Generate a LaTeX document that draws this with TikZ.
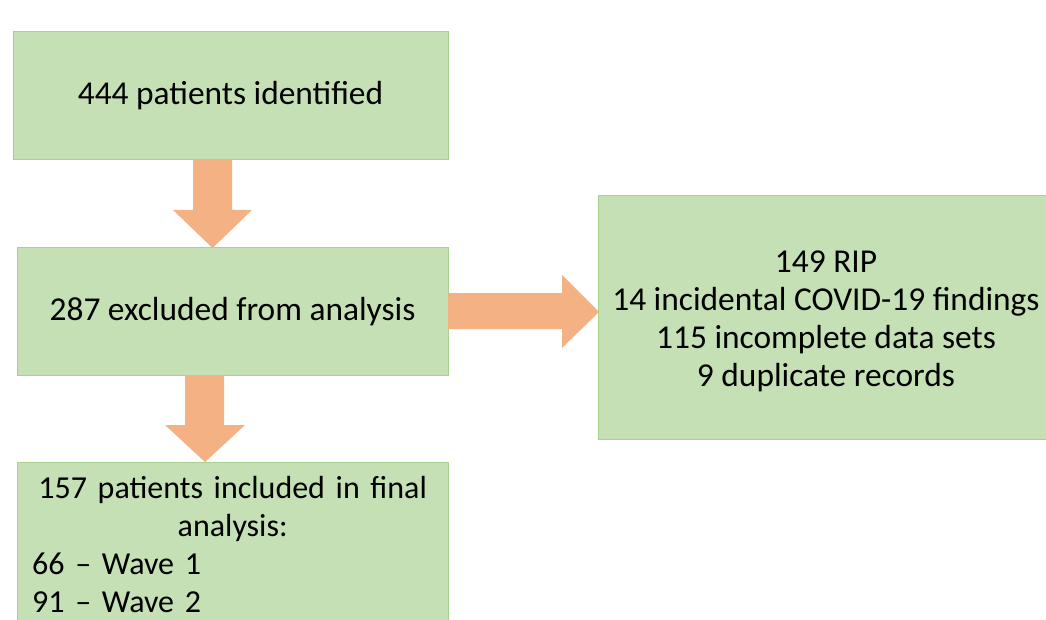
\documentclass[tikz,border=0pt]{standalone}
\usepackage{fontspec}
\setmainfont{Carlito}
\usetikzlibrary{calc}
\definecolor{boxgreen}{HTML}{C5E0B4}
\definecolor{boxline}{HTML}{A9D18E}
\definecolor{flowarrow}{HTML}{F4B183}
\tikzset{box/.style={draw=boxline, line width=1pt, fill=boxgreen, inner sep=0pt, outer sep=0pt},
  flow/.style={fill=flowarrow}}
\begin{document}
\begin{tikzpicture}[x=1pt, y=-1pt, font=\fontsize{33.4}{38}\selectfont]
\useasboundingbox (0, 0) rectangle (1046, 620);
\node[box, minimum width=435pt, minimum height=128pt] (found) at (230.5, 96) {444 patients identified};
\node[box, minimum width=431pt, minimum height=127pt] (excl) at (232.5, 311.5) {287 excluded from analysis};
\node[box, minimum width=452pt, minimum height=243pt] (why) at (824, 317.5) {};
\node[align=center] (whytxt) at (826, 321) {149 RIP\\14 incidental COVID-19 findings\\115 incomplete data sets\\9 duplicate records};
\node[box, minimum width=431pt, minimum height=180pt, anchor=north west] (final) at (17, 462) {};
\node[text width=401pt, align=left, anchor=north west, inner sep=0pt, font=\fontsize{32}{38}\selectfont] (finaltxt) at (32, 476) {{\centering 157 patients included in final\\analysis:\par}66 -- Wave 1\\91 -- Wave 2};
% block arrows
\fill[flow] ($(found.south)+(-37.5, 0)$) -- ++(39, 0) -- ++(0, 50) -- ++(20, 0) -- ++(-39.5, 38) -- ++(-39.5, -38) -- ++(20, 0) -- cycle;
\fill[flow] ($(excl.south)+(-47.5, 0)$) -- ++(39, 0) -- ++(0, 50) -- ++(21, 0) -- ++(-40, 37) -- ++(-40, -37) -- ++(20, 0) -- cycle;
\fill[flow] ($(excl.east)+(0, -18.5)$) -- ++(114, 0) -- ++(0, -18) -- ++(37, 37) -- ++(-37, 36) -- ++(0, -19) -- ++(-114, 0) -- cycle;
\end{tikzpicture}
\end{document}
